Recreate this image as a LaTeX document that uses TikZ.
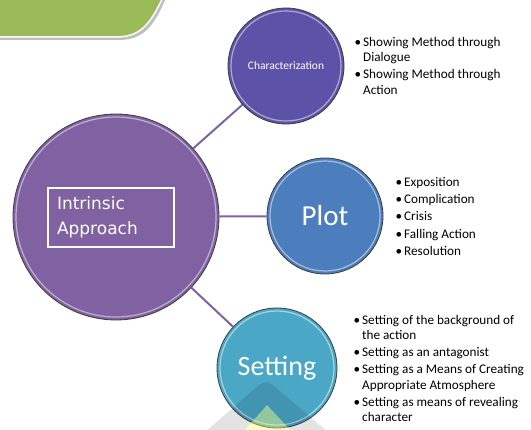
\documentclass[tikz,border=0pt]{standalone}
\usepackage{fontspec}
\setmainfont{Carlito}
\newfontfamily\boxfont{DejaVu Sans}
\definecolor{bigpurple}{RGB}{128,98,163}
\definecolor{charblue}{RGB}{92,82,168}
\definecolor{plotblue}{RGB}{76,126,190}
\definecolor{setteal}{RGB}{74,168,198}
\definecolor{linkpurple}{RGB}{127,98,165}
\definecolor{bannergreen}{RGB}{155,187,89}
\definecolor{rimgray}{RGB}{60,60,60}
\tikzset{
  bubble/.style={circle, draw=rimgray, line width=0.8pt, inner sep=0pt, text=white},
  link/.style={draw=linkpurple, line width=2pt},
  bul/.style={anchor=north west, inner sep=0pt, align=left, font=\fontsize{13.2}{15.5}\selectfont},
  ring/.style={draw=white, line width=1.2pt, opacity=0.5},
}
\newcommand{\bitem}{\makebox[8.5pt][l]{\textbullet}}
\newcommand{\bcont}{\hspace*{8.5pt}}
\begin{document}
\begin{tikzpicture}[x=1pt,y=-1pt]
\useasboundingbox (0,0) rectangle (531,430);
\clip (0,0) rectangle (531,430);
% banner
\fill[black!25] (-2,-2) -- (166,-2) .. controls (153,28) and (143,40) .. (118,40) -- (-2,40) -- cycle;
\draw[fill=bannergreen, draw=white, line width=1.5pt] (-3,-3) -- (163,-3) .. controls (150,25) and (140,37) .. (116,37) -- (-3,37) -- cycle;
% bubbles
\node[bubble, fill=bigpurple, minimum size=206pt] (big) at (116,217) {};
\node[bubble, fill=charblue, minimum size=116pt, font=\fontsize{11.5}{13}\selectfont] (char) at (286,66) {Characterization};
\node[bubble, fill=plotblue, minimum size=116pt, font=\fontsize{29}{30}\selectfont] (plot) at (325,216) {Plot};
\node[bubble, fill=setteal, minimum size=120pt, font=\fontsize{28}{30}\selectfont] (set) at (277,368) {Setting};
\draw[ring] (big.center) circle (100);
\draw[ring] (char.center) circle (55);
\draw[ring] (plot.center) circle (55);
\draw[ring] (set.center) circle (57);
% links
\draw[link] (big) -- (char);
\draw[link] (big) -- (plot);
\draw[link] (big) -- (set);
% box
\node[draw=white, line width=1.5pt, text width=108pt, inner xsep=9pt, minimum height=59pt, align=left, text=white, font=\boxfont\fontsize{17}{25}\selectfont] (ia) at (111,217.5) {Intrinsic\\Approach};
% bullet lists
\node[bul] (charlist) at (354.5,37) {\bitem Showing Method through\\\bcont Dialogue\\[1.5pt]\bitem Showing Method through\\\bcont Action};
\node[bul] (plotlist) at (395.5,177) {\bitem Exposition\\[1.8pt]\bitem Complication\\[1.8pt]\bitem Crisis\\[1.8pt]\bitem Falling Action\\[1.8pt]\bitem Resolution};
\node[bul] (setlist) at (353.5,315) {\bitem Setting of the background of\\\bcont the action\\[1.5pt]\bitem Setting as an antagonist\\[1.5pt]\bitem Setting as a Means of Creating\\\bcont Appropriate Atmosphere\\[1.5pt]\bitem Setting as means of revealing\\\bcont character};
% watermark
\fill[black, opacity=0.11] (205,432) -- (258,386) .. controls (264,381) and (268,381) .. (274,386) -- (328,432) -- (292,432) -- (267,405) -- (243,432) -- cycle;
\fill[yellow!60!white, opacity=0.4] (243,432) -- (267,405) -- (292,432) -- cycle;
\end{tikzpicture}
\end{document}
